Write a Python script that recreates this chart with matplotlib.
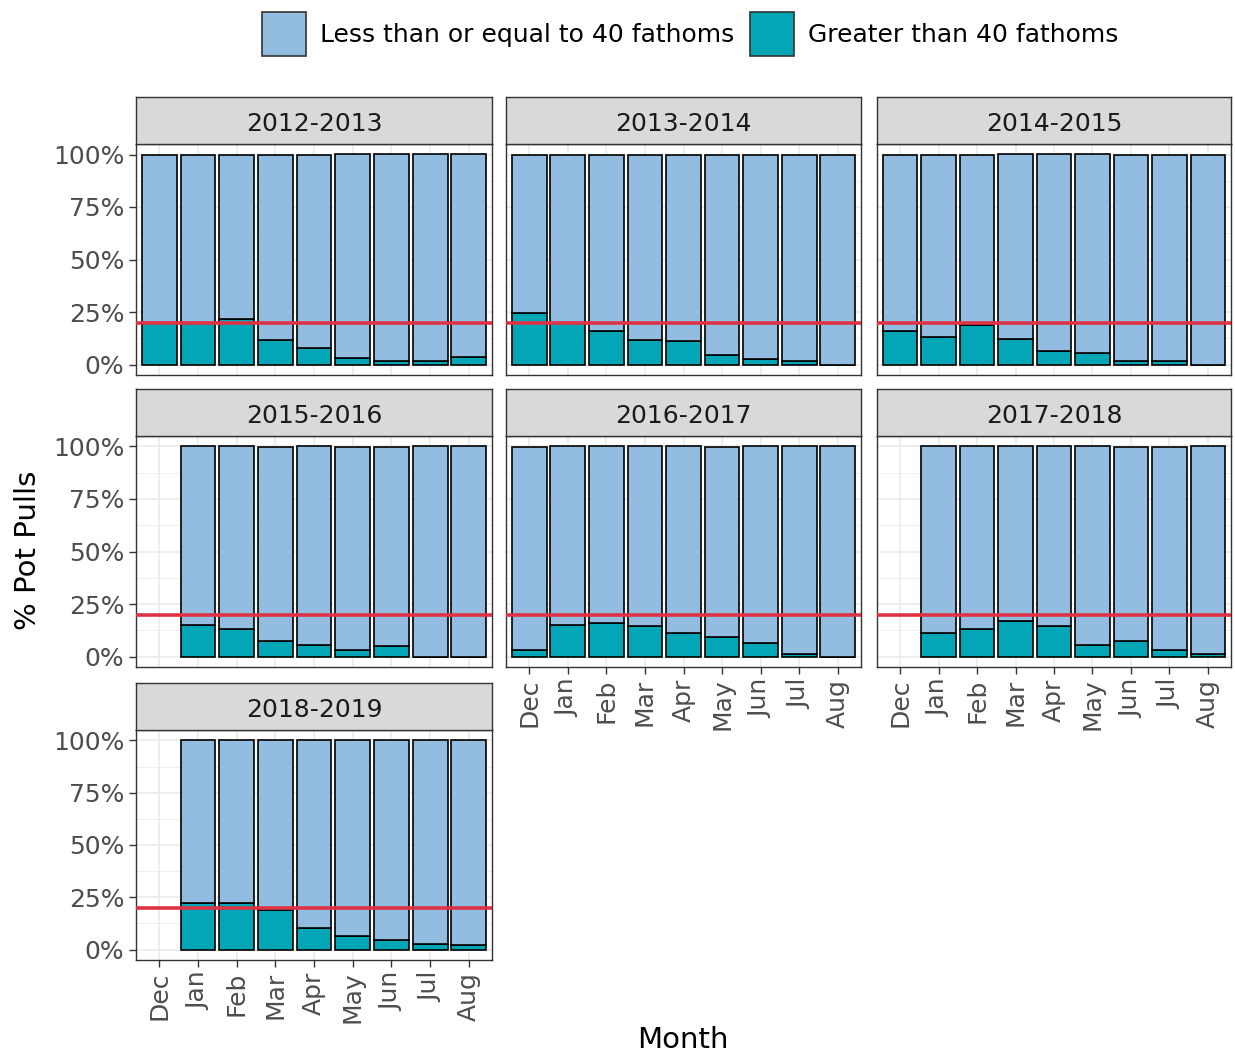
import numpy as np
import matplotlib
matplotlib.use("Agg")
import matplotlib.pyplot as plt
from matplotlib.patches import Patch

months = ["Dec", "Jan", "Feb", "Mar", "Apr", "May", "Jun", "Jul", "Aug"]
seasons = ["2012-2013", "2013-2014", "2014-2015", "2015-2016",
           "2016-2017", "2017-2018", "2018-2019"]

# % of pot pulls deeper than 40 fathoms (NaN = no fishing that month)
deep_2012 = [20.0, 20.0, 21.5, 11.9, 8.0, 3.2, 1.6, 1.6, 3.5]
deep_2013 = [24.4, 20.0, 15.9, 11.9, 11.1, 4.3, 2.4, 1.8, 0.0]
deep_2014 = [15.9, 13.1, 18.7, 12.0, 6.4, 5.4, 1.8, 1.8, 0.0]
deep_2015 = [np.nan, 15.1, 13.2, 7.3, 5.7, 2.9, 4.8, 0.0, 0.0]
deep_2016 = [2.9, 15.1, 16.0, 14.3, 11.3, 9.2, 6.5, 1.0, 0.0]
deep_2017 = [np.nan, 11.3, 13.2, 17.1, 14.3, 5.7, 7.3, 2.9, 1.0]
deep_2018 = [np.nan, 22.4, 22.4, 18.7, 10.4, 6.5, 4.6, 2.5, 2.0]
deep_all = [deep_2012, deep_2013, deep_2014, deep_2015, deep_2016, deep_2017, deep_2018]

threshold = 20
yticks = [0, 25, 50, 75, 100]
yticklabels = ["0%", "25%", "50%", "75%", "100%"]
legend_labels = ["Less than or equal to 40 fathoms", "Greater than 40 fathoms"]

c_shallow = "#93BCE1"
c_deep = "#02A6B6"
c_red = "#DD3344"

W, H = 1235, 1055
fig = plt.figure(figsize=(W / 100, H / 100), dpi=100)
plt.rcParams['font.family'] = ['DejaVu Sans']

FS = 18

cols_x = [(136, 492), (506, 861), (877, 1231)]
rows_y = [(144, 375), (436, 667), (730, 960)]
strip_h = 47

def frac_box(x0, x1, ytop, ybot):
    return [x0 / W, 1 - ybot / H, (x1 - x0) / W, (ybot - ytop) / H]

xidx = np.arange(len(months))
for k, (season, deep) in enumerate(zip(seasons, deep_all)):
    r, c = divmod(k, 3)
    x0, x1 = cols_x[c]
    yt, yb = rows_y[r]
    ax = fig.add_axes(frac_box(x0, x1, yt, yb))
    deep = np.array(deep, dtype=float)
    present = ~np.isnan(deep)
    d = np.where(present, deep, 0)
    shallow = np.where(present, 100 - d, 0)
    ax.bar(xidx[present], d[present], width=0.9, color=c_deep,
           edgecolor="black", linewidth=1.2, zorder=3)
    ax.bar(xidx[present], shallow[present], bottom=d[present], width=0.9,
           color=c_shallow, edgecolor="black", linewidth=1.2, zorder=3)
    ax.axhline(threshold, color=c_red, linewidth=2.6, zorder=4)
    ax.set_xlim(-0.6, 8.6)
    ax.set_ylim(-5, 105)
    ax.set_yticks(yticks)
    ax.set_yticks([12.5, 37.5, 62.5, 87.5], minor=True)
    ax.set_xticks(xidx)
    ax.grid(True, which="major", color="#EBEBEB", linewidth=1.2, zorder=0)
    ax.grid(True, which="minor", axis="y", color="#EBEBEB", linewidth=0.6, zorder=0)
    ax.set_axisbelow(True)
    for s in ax.spines.values():
        s.set_color("#333333")
        s.set_linewidth(1.0)
    ax.tick_params(which="minor", length=0)
    ax.tick_params(which="major", color="#333333", length=5, width=1,
                   labelsize=FS, labelcolor="#4D4D4D")
    if c == 0:
        ax.set_yticklabels(yticklabels)
    else:
        ax.tick_params(axis="y", which="major", length=0, labelleft=False)
    bottom_panel = (r == 2) or (r == 1 and c > 0)
    if bottom_panel:
        ax.set_xticklabels(months, rotation=90)
    else:
        ax.tick_params(axis="x", which="major", length=0, labelbottom=False)
    # strip
    sax = fig.add_axes(frac_box(x0, x1, yt - strip_h, yt))
    sax.set_xlim(0, 1)
    sax.set_ylim(0, 1)
    sax.set_facecolor("#D9D9D9")
    sax.set_xticks([])
    sax.set_yticks([])
    for s in sax.spines.values():
        s.set_color("#333333")
        s.set_linewidth(1.0)
    sax.text(0.5, 0.42, season, ha="center", va="center", fontsize=FS, color="#1A1A1A")

fig.text(683 / W, 1 - 1040 / H, "Month", ha="center", va="center", fontsize=21)
fig.text(28 / W, 1 - 550 / H, "% Pot Pulls", ha="center", va="center",
         rotation=90, fontsize=21)

handles = [Patch(facecolor=c_shallow, edgecolor="#333333", linewidth=1.2),
           Patch(facecolor=c_deep, edgecolor="#333333", linewidth=1.2)]
fig.legend(handles, legend_labels, loc="center",
           bbox_to_anchor=(690 / W, 1 - 34 / H), ncol=2, frameon=False,
           fontsize=FS, handlelength=1.75, handleheight=2.3,
           handletextpad=0.55, columnspacing=0.65)

fig.savefig("out.png", dpi=100, facecolor="white")
